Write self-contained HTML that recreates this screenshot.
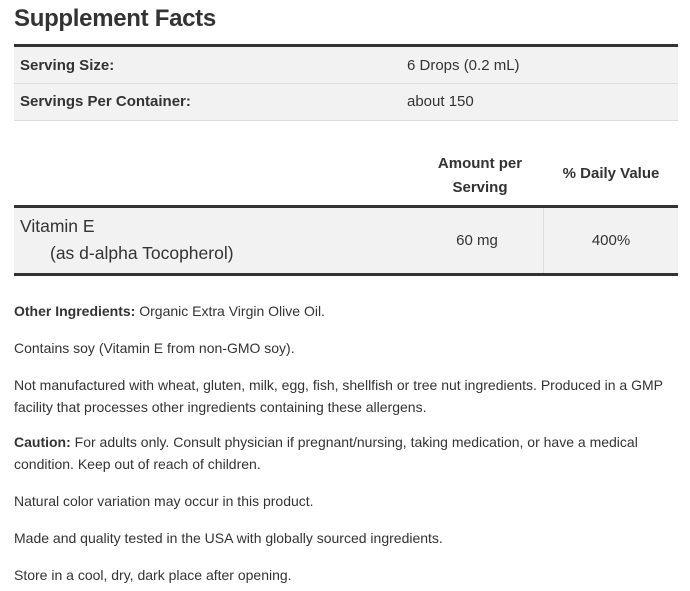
<!DOCTYPE html>
<html><head><style>
body{margin:0;width:690px;height:591px;background:#fff;font-family:"Liberation Sans",sans-serif;color:#333;position:relative;overflow:hidden}
.a{position:absolute;white-space:nowrap}
h1{position:absolute;left:14px;top:5px;margin:0;font-size:24px;font-weight:bold;color:#333;letter-spacing:-0.3px}
.bar{position:absolute;left:14px;width:664px;background:#333}
.row{position:absolute;left:14px;width:664px;background:#f2f2f2;border-bottom:1px solid #ddd}
.t{font-size:15px}
.p{position:absolute;left:14px;font-size:14px;line-height:22px;color:#333;width:662px}
</style></head><body>
<h1>Supplement Facts</h1>
<div class="bar" style="top:44px;height:3px"></div>
<div class="row" style="top:47px;height:36px"></div>
<div class="row" style="top:84px;height:36px"></div>
<div class="a t" style="left:20px;top:57px;font-weight:bold">Serving Size:</div>
<div class="a t" style="left:407px;top:57px">6 Drops (0.2 mL)</div>
<div class="a t" style="left:20px;top:93px;font-weight:bold">Servings Per Container:</div>
<div class="a t" style="left:407px;top:93px">about 150</div>
<div class="a t" style="left:410px;top:152px;width:140px;text-align:center;font-weight:bold;line-height:24px;white-space:normal">Amount per<br>Serving</div>
<div class="a t" style="left:546px;top:165px;width:130px;text-align:center;font-weight:bold">% Daily Value</div>
<div class="bar" style="top:205px;height:3px"></div>
<div style="position:absolute;left:14px;top:208px;width:664px;height:65px;background:#f2f2f2"></div>
<div style="position:absolute;left:543px;top:208px;width:1px;height:65px;background:#ddd"></div>
<div class="a" style="left:20px;top:216px;font-size:17.5px">Vitamin E</div>
<div class="a" style="left:50px;top:243px;font-size:17.5px">(as d-alpha Tocopherol)</div>
<div class="a t" style="left:410px;top:232px;width:134px;text-align:center">60 mg</div>
<div class="a t" style="left:546px;top:232px;width:130px;text-align:center">400%</div>
<div class="bar" style="top:273px;height:3px"></div>
<div class="p" style="top:300px"><b>Other Ingredients:</b> Organic Extra Virgin Olive Oil.</div>
<div class="p" style="top:337px">Contains soy (Vitamin E from non-GMO soy).</div>
<div class="p" style="top:374px">Not manufactured with wheat, gluten, milk, egg, fish, shellfish or tree nut ingredients. Produced in a GMP facility that processes other ingredients containing these allergens.</div>
<div class="p" style="top:431px"><b>Caution:</b> For adults only. Consult physician if pregnant/nursing, taking medication, or have a medical condition. Keep out of reach of children.</div>
<div class="p" style="top:490px">Natural color variation may occur in this product.</div>
<div class="p" style="top:527px">Made and quality tested in the USA with globally sourced ingredients.</div>
<div class="p" style="top:564px">Store in a cool, dry, dark place after opening.</div>
</body></html>
